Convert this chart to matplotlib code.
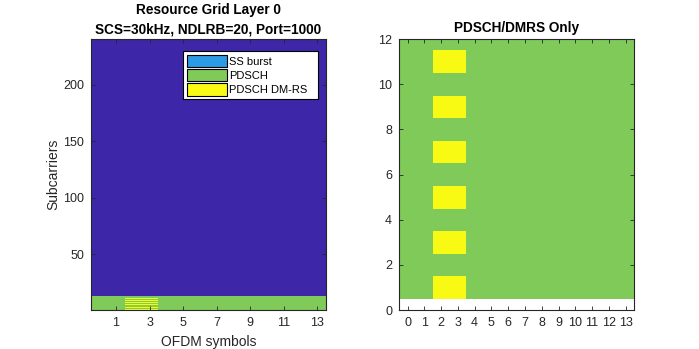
import numpy as np
import matplotlib
matplotlib.use("Agg")
import matplotlib.pyplot as plt
from matplotlib.colors import ListedColormap
from matplotlib.patches import Patch

plt.rcParams['font.family'] = ['Liberation Sans', 'DejaVu Sans']

# ---- data ----
n_symbols = 14
n_subcarriers = 240
pdsch_subcarriers = 12
dmrs_symbols = [2, 3]
dmrs_subcarriers = [1, 3, 5, 7, 9, 11]  # 1-based
legend_labels = ["SS burst", "PDSCH", "PDSCH DM-RS"]
left_xticks = [1, 3, 5, 7, 9, 11, 13]
left_yticks = [50, 100, 150, 200]
right_xticks = list(range(0, 14))
right_yticks = [0, 2, 4, 6, 8, 10, 12]

# codes: 0 empty, 1 SS burst, 2 PDSCH, 3 DMRS
colors = ["#3E26A8", "#2C9BE6", "#80CA5A", "#F9FA14"]
cmap = ListedColormap(colors)

grid = np.zeros((n_subcarriers, n_symbols))
grid[:pdsch_subcarriers, :] = 2
for s in dmrs_symbols:
    for k in dmrs_subcarriers:
        grid[k - 1, s] = 3

small = np.full((pdsch_subcarriers, n_symbols), 2.0)
for s in dmrs_symbols:
    for k in dmrs_subcarriers:
        small[k - 1, s] = 3

fig = plt.figure(figsize=(6.99, 3.49), dpi=100)
ax1 = fig.add_axes([0.130, 0.1117, 0.336, 0.7765])
ax2 = fig.add_axes([0.571, 0.1117, 0.336, 0.7765])

ax1.imshow(grid, cmap=cmap, vmin=-0.5, vmax=3.5, origin='lower', aspect='auto',
           interpolation='nearest',
           extent=[-0.5, n_symbols - 0.5, 0.5, n_subcarriers + 0.5])
ax1.set_xlim(-0.5, n_symbols - 0.5)
ax1.set_ylim(0.5, n_subcarriers + 0.5)
ax1.set_xticks(left_xticks)
ax1.set_yticks(left_yticks)
ax1.set_xlabel("OFDM symbols", fontsize=10, color='#262626')
ax1.set_ylabel("Subcarriers", fontsize=10, color='#262626', labelpad=2)
ax1.set_title("Resource Grid Layer 0\nSCS=30kHz, NDLRB=20, Port=1000",
              fontsize=9.8, fontweight='bold', linespacing=1.5, pad=4)

handles = [Patch(facecolor=colors[i + 1], edgecolor='black', linewidth=0.8)
           for i in range(3)]
leg = ax1.legend(handles, legend_labels, loc='upper left', mode='expand',
                 bbox_to_anchor=(0.391, 0.0, 0.575, 0.956), borderaxespad=0,
                 fontsize=8, fancybox=False, framealpha=1,
                 edgecolor='black', handlelength=3.6, handleheight=1.3,
                 handletextpad=0.25, labelspacing=0.2, borderpad=0.35)
leg.get_frame().set_linewidth(0.8)

ax2.imshow(small, cmap=cmap, vmin=-0.5, vmax=3.5, origin='lower', aspect='auto',
           interpolation='nearest',
           extent=[-0.5, n_symbols - 0.5, 0.5, pdsch_subcarriers + 0.5])
ax2.set_xlim(-0.5, n_symbols - 0.5)
ax2.set_ylim(0, 12)
ax2.set_xticks(right_xticks)
ax2.set_yticks(right_yticks)
ax2.set_title("PDSCH/DMRS Only", fontsize=9.8, fontweight='bold', pad=5)

for ax in (ax1, ax2):
    ax.tick_params(direction='in', top=True, right=True, length=3,
                   width=0.6, labelsize=9, colors='#262626', pad=5)
    for sp in ax.spines.values():
        sp.set_color('#262626')
        sp.set_linewidth(0.8)

fig.savefig("out.png", dpi=100)
